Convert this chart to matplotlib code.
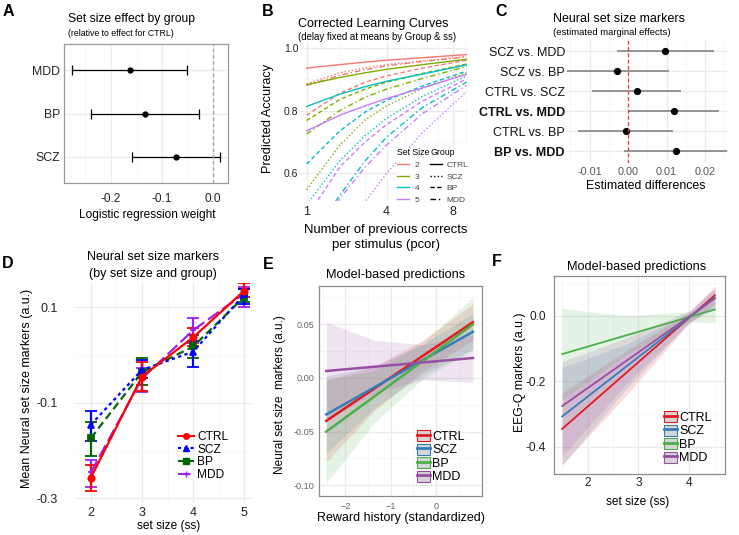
import numpy as np
import matplotlib
matplotlib.use("Agg")
import matplotlib.pyplot as plt
from matplotlib.lines import Line2D
from matplotlib.patches import Patch

plt.rcParams['font.family'] = ['Liberation Sans', 'DejaVu Sans']

# ---------------------------------------------------------
# data
# ---------------------------------------------------------
# A: set size effect by group (relative to CTRL)
groups_a = ["SCZ", "BP", "MDD"]
est_a = [-0.073, -0.133, -0.163]
lo_a = [-0.159, -0.239, -0.277]
hi_a = [0.014, -0.027, -0.052]

# B: corrected learning curves
pcor = [1, 2, 3, 4, 6, 9]
set_sizes_b = ["2", "3", "4", "5"]
groups = ["CTRL", "SCZ", "BP", "MDD"]
acc_ss2 = {"CTRL": [0.935, 0.946, 0.954, 0.960, 0.968, 0.978],
           "SCZ": [0.885, 0.920, 0.936, 0.946, 0.958, 0.972],
           "BP": [0.785, 0.855, 0.890, 0.910, 0.935, 0.960],
           "MDD": [0.880, 0.912, 0.930, 0.942, 0.956, 0.970]}
acc_ss3 = {"CTRL": [0.882, 0.905, 0.920, 0.931, 0.946, 0.963],
           "SCZ": [0.548, 0.690, 0.770, 0.815, 0.870, 0.920],
           "BP": [0.768, 0.835, 0.868, 0.890, 0.918, 0.948],
           "MDD": [0.725, 0.800, 0.842, 0.868, 0.902, 0.940]}
acc_ss4 = {"CTRL": [0.813, 0.852, 0.876, 0.893, 0.916, 0.945],
           "SCZ": [0.500, 0.640, 0.720, 0.775, 0.845, 0.910],
           "BP": [0.630, 0.735, 0.795, 0.832, 0.878, 0.925],
           "MDD": [0.380, 0.530, 0.640, 0.715, 0.810, 0.890]}
acc_ss5 = {"CTRL": [0.735, 0.785, 0.815, 0.838, 0.872, 0.915],
           "SCZ": [0.200, 0.340, 0.510, 0.600, 0.730, 0.860],
           "BP": [0.460, 0.620, 0.700, 0.755, 0.830, 0.900],
           "MDD": [0.330, 0.520, 0.620, 0.690, 0.790, 0.880]}

# C: estimated marginal effects (bottom to top)
contrasts_c = ["BP vs. MDD", "CTRL vs. BP", "CTRL vs. MDD",
               "CTRL vs. SCZ", "SCZ vs. BP", "SCZ vs. MDD"]
bold_c = ["BP vs. MDD", "CTRL vs. MDD"]
est_c = [0.01236, -0.0006, 0.01192, 0.00219, -0.00277, 0.00966]
lo_c = [-0.00094, -0.01294, 0.0001, -0.0094, -0.0165, -0.00287]
hi_c = [0.02567, 0.01174, 0.02358, 0.01367, 0.01054, 0.02236]

# D: neural set size markers by set size and group
ss_d = [2, 3, 4, 5]
mean_d = {"CTRL": [-0.257, -0.045, 0.037, 0.135],
          "SCZ": [-0.146, -0.031, 0.007, 0.127],
          "BP": [-0.174, -0.036, 0.018, 0.122],
          "MDD": [-0.246, -0.049, 0.052, 0.129]}
low_d = {"CTRL": [-0.284, -0.075, 0.018, 0.122],
         "SCZ": [-0.181, -0.049, -0.024, 0.108],
         "BP": [-0.211, -0.063, -0.007, 0.112],
         "MDD": [-0.277, -0.077, 0.025, 0.101]}
high_d = {"CTRL": [-0.230, -0.015, 0.056, 0.150],
          "SCZ": [-0.117, -0.010, 0.029, 0.138],
          "BP": [-0.140, -0.007, 0.042, 0.138],
          "MDD": [-0.220, -0.028, 0.077, 0.143]}

# E: model-based predictions vs reward history
x_e = [-2.42, 0.81]
fit_e = {"CTRL": [-0.040, 0.052], "SCZ": [-0.034, 0.043],
         "BP": [-0.050, 0.050], "MDD": [0.0065, 0.0186]}
xr_e = [-2.42, -1.35, -0.3, 0.81]
rlo_e = {"CTRL": [-0.078, -0.030, 0.006, 0.035],
         "SCZ": [-0.070, -0.028, 0.003, 0.027],
         "BP": [-0.098, -0.041, -0.001, 0.026],
         "MDD": [-0.039, -0.014, -0.002, -0.004]}
rhi_e = {"CTRL": [-0.002, 0.011, 0.035, 0.069],
         "SCZ": [0.002, 0.011, 0.031, 0.060],
         "BP": [-0.002, 0.007, 0.033, 0.075],
         "MDD": [0.052, 0.035, 0.031, 0.040]}

# F: model-based predictions vs set size
x_f = [1.5, 4.5]
fit_f = {"CTRL": [-0.346, 0.063], "SCZ": [-0.308, 0.056],
         "BP": [-0.117, 0.0195], "MDD": [-0.276, 0.053]}
xr_f = [1.5, 2.75, 4.0, 4.5]
rlo_f = {"CTRL": [-0.456, -0.245, -0.022, 0.035],
         "SCZ": [-0.458, -0.225, -0.020, 0.028],
         "BP": [-0.257, -0.120, -0.018, -0.021],
         "MDD": [-0.430, -0.210, -0.020, 0.022]}
rhi_f = {"CTRL": [-0.236, -0.107, 0.012, 0.091],
         "SCZ": [-0.158, -0.087, 0.010, 0.084],
         "BP": [0.023, 0.000, 0.012, 0.043],
         "MDD": [-0.140, -0.068, 0.016, 0.084]}

# ---------------------------------------------------------
# helpers
# ---------------------------------------------------------
W, H = 739, 535
fig = plt.figure(figsize=(W / 100, H / 100), dpi=100)


def add_ax(x0, y0, x1, y1):
    return fig.add_axes([x0 / W, 1 - y1 / H, (x1 - x0) / W, (y1 - y0) / H])


def ftext(x, y, s, **kw):
    kw.setdefault("va", "center")
    fig.text(x / W, 1 - y / H, s, **kw)


def style(ax, border=None):
    ax.set_axisbelow(True)
    for sp in ax.spines.values():
        if border is None:
            sp.set_visible(False)
        else:
            sp.set_color(border)
            sp.set_linewidth(0.9)
    ax.grid(which="major", color="#EBEBEB", lw=0.9)
    ax.grid(which="minor", color="#F4F4F4", lw=0.5)
    ax.tick_params(which="both", length=0)


set1 = {"CTRL": "#E41A1C", "SCZ": "#377EB8", "BP": "#4DAF4A", "MDD": "#984EA3"}

# ---------------------------------------------------------
# A
# ---------------------------------------------------------
axA = add_ax(64, 44, 228, 183)
style(axA, border="#9A9A9A")
ya = np.arange(1, len(groups_a) + 1)
est = np.array(est_a)
axA.errorbar(est, ya, xerr=[est - np.array(lo_a), np.array(hi_a) - est],
             fmt="o", color="black", ms=3.5, lw=0.9, capsize=3.5, capthick=0.9)
axA.axvline(0, color="#A0A0A0", ls=(0, (3, 2)), lw=0.9)
axA.set_xlim(-0.292, 0.029)
axA.set_ylim(0.4, 3.6)
axA.set_xticks([-0.2, -0.1, 0.0])
axA.set_xticklabels(["-0.2", "-0.1", "0.0"])
axA.set_xticks([-0.25, -0.15, -0.05], minor=True)
axA.set_yticks(ya)
axA.set_yticklabels(groups_a)
axA.tick_params(axis="x", labelsize=8.6, pad=7.5, colors="#222222")
axA.tick_params(axis="y", labelsize=8.8, pad=3, colors="#222222")
ftext(3, 11, "A", fontsize=11.5, fontweight="bold")
ftext(68, 19, "Set size effect by group", fontsize=8.7)
ftext(68, 33, "(relative to effect for CTRL)", fontsize=6.3)
ftext(147, 215, "Logistic regression weight", fontsize=8.6, ha="center")

# ---------------------------------------------------------
# B
# ---------------------------------------------------------
axB = add_ax(300, 42, 467, 201)
axB.set_xscale("function", functions=(np.sqrt, np.square))
style(axB)
ss_colors = ["#F8766D", "#7CAE00", "#00BFC4", "#C77CFF"]
group_ls = {"CTRL": "-", "SCZ": (0, (1, 1.6)), "BP": (0, (3, 2)),
            "MDD": (0, (4, 2, 1, 2))}
for acc, col in zip([acc_ss2, acc_ss3, acc_ss4, acc_ss5], ss_colors):
    for g in groups:
        axB.plot(pcor, acc[g], color=col, ls=group_ls[g], lw=1.0)
axB.set_xlim(0.84, 9.04)
axB.set_ylim(0.512, 1.018)
axB.set_xticks([1, 4, 8])
axB.set_xticklabels(["1", "4", "8"])
axB.set_xticks([2, 3, 5, 6, 7, 9], minor=True)
axB.set_yticks([0.6, 0.8, 1.0])
axB.set_yticklabels(["0.6", "0.8", "1.0"])
axB.set_yticks([0.7, 0.9], minor=True)
axB.xaxis.set_minor_formatter(matplotlib.ticker.NullFormatter())
axB.tick_params(axis="x", labelsize=9, pad=3.5, colors="#222222")
axB.tick_params(axis="y", labelsize=7.5, pad=1.2, colors="#222222")
leg_kw = dict(bbox_transform=fig.transFigure, loc="upper left", fontsize=6,
              title_fontsize=6.3, frameon=True, framealpha=1, edgecolor="none",
              handlelength=1.4, labelspacing=0.45, borderpad=0.05,
              borderaxespad=0)
h_ss = [Line2D([], [], color=c, lw=1.0) for c in ss_colors]
leg1 = axB.legend(h_ss, set_sizes_b, title="Set Size", handletextpad=0.7,
                  bbox_to_anchor=(397 / W, 1 - 148 / H), **leg_kw)
leg1._legend_box.align = "left"
for t in leg1.get_texts():
    t.set_color("#444444")
axB.add_artist(leg1)
h_gr = [Line2D([], [], color="black", lw=1.0, ls=group_ls[g]) for g in groups]
leg2 = axB.legend(h_gr, groups, title="Group", handletextpad=0.5,
                  bbox_to_anchor=(430 / W, 1 - 148 / H), **leg_kw)
leg2._legend_box.align = "left"
for t in leg2.get_texts():
    t.set_color("#444444")
ftext(262, 12, "B", fontsize=11.5, fontweight="bold")
ftext(298, 23.5, "Corrected Learning Curves", fontsize=9)
ftext(298, 36.5, "(delay fixed at means by Group & ss)", fontsize=6.9)
ftext(268, 118, "Predicted Accuracy", fontsize=9.2, rotation=90, ha="center")
ftext(386, 229.5, "Number of previous corrects", fontsize=9.4, ha="center")
ftext(386, 245, "per stimulus (pcor)", fontsize=9.4, ha="center")

# ---------------------------------------------------------
# C
# ---------------------------------------------------------
axC = add_ax(567, 39, 728, 163)
style(axC)
yc = np.arange(1, len(contrasts_c) + 1)
axC.hlines(yc, lo_c, hi_c, color="#7A7A7A", lw=1.1)
axC.plot(est_c, yc, "o", color="black", ms=4.2)
axC.axvline(0, color="#FF3030", ls=(0, (3, 2)), lw=0.9)
axC.set_xlim(-0.0159, 0.026)
axC.set_ylim(0.4, 6.6)
axC.set_xticks([-0.01, 0.0, 0.01, 0.02])
axC.set_xticklabels(["-0.01", "0.00", "0.01", "0.02"])
axC.set_xticks([-0.015, -0.005, 0.005, 0.015, 0.025], minor=True)
axC.set_yticks(yc)
axC.set_yticklabels(contrasts_c)
for t in axC.get_yticklabels():
    if t.get_text() in bold_c:
        t.set_fontweight("bold")
axC.tick_params(axis="x", labelsize=7.8, pad=3, colors="#555555")
axC.tick_params(axis="y", labelsize=9, pad=1.5, colors="#111111")
ftext(495, 12, "C", fontsize=11.5, fontweight="bold")
ftext(553, 19, "Neural set size markers", fontsize=9)
ftext(553, 32.5, "(estimated marginal effects)", fontsize=6.8)
ftext(646, 186, "Estimated differences", fontsize=8.9, ha="center")

# ---------------------------------------------------------
# D
# ---------------------------------------------------------
axD = add_ax(75, 283, 252, 503)
style(axD)
d_colors = {"CTRL": "#FF0000", "SCZ": "#0000FF", "BP": "#006400", "MDD": "#A020F0"}
d_ls = {"CTRL": "-", "SCZ": (0, (1.5, 1.5)), "BP": (0, (3.5, 2)), "MDD": (0, (6, 2))}
d_mk = {"CTRL": "o", "SCZ": "^", "BP": "s", "MDD": "+"}
for g in ["MDD", "BP", "SCZ", "CTRL"]:
    m = np.array(mean_d[g])
    axD.errorbar(ss_d, m, yerr=[m - np.array(low_d[g]), np.array(high_d[g]) - m],
                 color=d_colors[g], ls=d_ls[g], marker=d_mk[g], ms=4.5, lw=1.6,
                 capsize=4, capthick=1.6, mew=1.3, label=g)
axD.set_xlim(1.69, 5.15)
axD.set_ylim(-0.31, 0.151)
axD.set_xticks(ss_d)
axD.set_xticks([2.5, 3.5, 4.5], minor=True)
axD.set_yticks([-0.3, -0.1, 0.1])
axD.set_yticklabels(["-0.3", "-0.1", "0.1"])
axD.set_yticks([-0.2, 0.0], minor=True)
axD.tick_params(axis="both", labelsize=9, colors="#222222")
axD.tick_params(axis="y", pad=12.5)
axD.tick_params(axis="x", pad=3)
hd = [Line2D([], [], color=d_colors[g], ls=d_ls[g], marker=d_mk[g], ms=4, lw=1.5)
      for g in groups]
axD.legend(hd, groups, loc="upper left", bbox_to_anchor=(178 / W, 1 - 431 / H),
           bbox_transform=fig.transFigure, fontsize=8.6, frameon=False,
           handlelength=1.3, handletextpad=0.3, labelspacing=0.05,
           borderpad=0, borderaxespad=0)
ftext(2, 263, "D", fontsize=11.5, fontweight="bold")
ftext(153, 257, "Neural set size markers", fontsize=9, ha="center")
ftext(153, 274, "(by set size and group)", fontsize=9, ha="center")
ftext(27, 388, "Mean Neural set size markers (a.u.)", fontsize=9, rotation=90,
      ha="center")
ftext(169, 526, "set size (ss)", fontsize=8.6, ha="center")


def legend_ribbon(ax, x, y, fs):
    hs = [(Patch(facecolor="#D6D6D6", edgecolor=set1[g], lw=0.8),
           Line2D([], [], color=set1[g], lw=2)) for g in groups]
    ax.legend(hs, groups, loc="upper left", bbox_to_anchor=(x / W, 1 - y / H),
              bbox_transform=fig.transFigure, fontsize=fs, frameon=False,
              handlelength=1.0, handleheight=1.0, handletextpad=0.2,
              labelspacing=0.05, borderpad=0, borderaxespad=0)


# ---------------------------------------------------------
# E
# ---------------------------------------------------------
axE = add_ax(319, 286, 482, 496)
style(axE, border="#8C8C8C")
for g in groups:
    axE.fill_between(xr_e, rlo_e[g], rhi_e[g], color=set1[g], alpha=0.15, lw=0)
for g in groups:
    axE.plot(x_e, fit_e[g], color=set1[g], lw=1.8)
axE.set_xlim(-2.58, 1.01)
axE.set_ylim(-0.110, 0.0857)
axE.set_xticks([-2, -1, 0])
axE.set_xticks([-2.5, -1.5, -0.5, 0.5], minor=True)
axE.set_yticks([-0.10, -0.05, 0.0, 0.05])
axE.set_yticklabels(["-0.10", "-0.05", "0.00", "0.05"])
axE.set_yticks([-0.075, -0.025, 0.025, 0.075], minor=True)
axE.tick_params(axis="both", labelsize=6.6, colors="#666666")
axE.tick_params(axis="y", pad=3)
axE.tick_params(axis="x", pad=4)
legend_ribbon(axE, 417, 430, 9)
ftext(263, 265, "E", fontsize=11.5, fontweight="bold")
ftext(396, 275, "Model-based predictions", fontsize=9.2, ha="center")
ftext(280, 395, "Neural set size  markers (a.u.)", fontsize=8.6, rotation=90,
      ha="center")
ftext(401, 518, "Reward history (standardized)", fontsize=9, ha="center")

# ---------------------------------------------------------
# F
# ---------------------------------------------------------
axF = add_ax(554, 276, 725, 474)
style(axF, border="#8C8C8C")
for g in groups:
    axF.fill_between(xr_f, rlo_f[g], rhi_f[g], color=set1[g], alpha=0.15, lw=0)
for g in groups:
    axF.plot(x_f, fit_f[g], color=set1[g], lw=1.3)
axF.set_xlim(1.34, 4.70)
axF.set_ylim(-0.484, 0.122)
axF.set_xticks([2, 3, 4])
axF.set_xticks([1.5, 2.5, 3.5, 4.5], minor=True)
axF.set_yticks([-0.4, -0.2, 0.0])
axF.set_yticklabels(["-0.4", "-0.2", "0.0"])
axF.set_yticks([-0.3, -0.1, 0.1], minor=True)
axF.tick_params(axis="both", labelsize=8.6, colors="#222222")
axF.tick_params(axis="y", pad=5.5)
axF.tick_params(axis="x", pad=2)
legend_ribbon(axF, 664, 411, 9)
ftext(492, 262, "F", fontsize=11.5, fontweight="bold")
ftext(637, 267, "Model-based predictions", fontsize=9.2, ha="center")
ftext(520, 372, "EEG-Q markers (a.u.)", fontsize=8.8, rotation=90, ha="center")
ftext(638, 502, "set size (ss)", fontsize=8.6, ha="center")

fig.savefig("out.png", dpi=100)
